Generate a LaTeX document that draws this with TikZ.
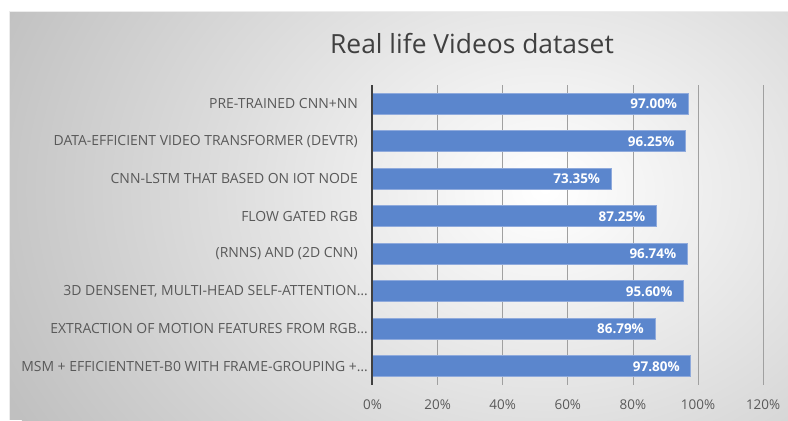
\documentclass[tikz,border=0pt]{standalone}
\usepackage{fontspec}
\setmainfont{Open Sans}
\usepackage{tikz}
\usetikzlibrary{positioning}

\definecolor{barblue}{RGB}{91,134,205}
\definecolor{baredge}{RGB}{143,170,220}
\definecolor{txtgray}{RGB}{89,89,89}
\definecolor{ttlgray}{RGB}{64,64,64}
\definecolor{bggray}{RGB}{192,192,192}
\definecolor{gridgray}{RGB}{160,160,160}

\tikzstyle{bar}=[fill=barblue, draw=baredge, line width=0.8pt]
\tikzstyle{val}=[text=white, font=\fontsize{13.5}{16}\selectfont\bfseries, anchor=east, inner sep=0pt]
\tikzstyle{lbl}=[text=txtgray, font=\fontsize{14}{16}\selectfont, anchor=east, inner sep=0pt]
\tikzstyle{tick}=[text=txtgray, font=\fontsize{13.5}{16}\selectfont, inner sep=0pt]
\tikzstyle{grid}=[draw=gridgray, line width=0.8pt]

\begin{document}
\begin{tikzpicture}[x=1bp, y=-1bp]
    \useasboundingbox (0,0) rectangle (788,420);

    % background
    \fill[bggray] (9,11) rectangle (788,420);
    \begin{scope}
        \clip (9,11) rectangle (788,420);
        \shade[inner color=white, outer color=bggray] (545,190) ellipse (600 and 470);
    \end{scope}
    \draw[white!85!gray, line width=0.8pt] (9,420) -- (9,11) -- (788,11);

    \node[text=ttlgray, font=\fontsize{26.5}{30}\selectfont] (title) at (472,43.5) {Real life Videos dataset};

    % gridlines and ticks
    \foreach \p/\n in {20/g20, 40/g40, 60/g60, 80/g80, 100/g100, 120/g120} {
        \coordinate (\n top) at ({372.5+3.255*\p},85);
        \coordinate (\n bot) at ({372.5+3.255*\p},385);
        \draw[grid] (\n top) -- (\n bot);
        \node[tick] (\n) at ({372.5+3.255*\p},405) {\p\%};
    }
    \node[tick] (g0) at (372.5,405) {0\%};

    % bars
    \draw[bar] (372.5,93.3) rectangle ++(3.255*97.00,21);
    \draw[bar] (372.5,130.8) rectangle ++(3.255*96.25,21);
    \draw[bar] (372.5,168.3) rectangle ++(3.255*73.35,21);
    \draw[bar] (372.5,205.8) rectangle ++(3.255*87.25,21);
    \draw[bar] (372.5,243.3) rectangle ++(3.255*96.74,21);
    \draw[bar] (372.5,280.8) rectangle ++(3.255*95.60,21);
    \draw[bar] (372.5,318.3) rectangle ++(3.255*86.79,21);
    \draw[bar] (372.5,355.8) rectangle ++(3.255*97.80,21);

    \node[val] (p1) at ({372.5+3.255*97.00-11},103.8) {97.00\%};
    \node[val] (p2) at ({372.5+3.255*96.25-11},141.3) {96.25\%};
    \node[val] (p3) at ({372.5+3.255*73.35-11},178.8) {73.35\%};
    \node[val] (p4) at ({372.5+3.255*87.25-11},216.3) {87.25\%};
    \node[val] (p5) at ({372.5+3.255*96.74-11},253.8) {96.74\%};
    \node[val] (p6) at ({372.5+3.255*95.60-11},291.3) {95.60\%};
    \node[val] (p7) at ({372.5+3.255*86.79-11},328.8) {86.79\%};
    \node[val] (p8) at ({372.5+3.255*97.80-11},366.3) {97.80\%};

    % category labels
    \node[lbl] (l1) at (358,103.8) {PRE-TRAINED CNN+NN};
    \node[lbl] (l2) at (358,141.3) {DATA-EFFICIENT VIDEO TRANSFORMER (DEVTR)};
    \node[lbl] (l3) at (358,178.8) {CNN-LSTM THAT BASED ON IOT NODE};
    \node[lbl] (l4) at (358,216.3) {FLOW GATED RGB};
    \node[lbl] (l5) at (358,253.8) {(RNNS) AND (2D CNN)};
    \node[lbl] (l6) at (368,291.3) {3D DENSENET, MULTI-HEAD SELF-ATTENTION…};
    \node[lbl] (l7) at (368,328.8) {EXTRACTION OF MOTION FEATURES FROM RGB…};
    \node[lbl] (l8) at (368,366.3) {MSM + EFFICIENTNET-B0 WITH FRAME-GROUPING +…};

    % axis
    \coordinate (axtop) at (372,85);
    \coordinate (axbot) at (372,385);
    \draw[ttlgray, line width=2pt] (axtop) -- (axbot);
\end{tikzpicture}
\end{document}
